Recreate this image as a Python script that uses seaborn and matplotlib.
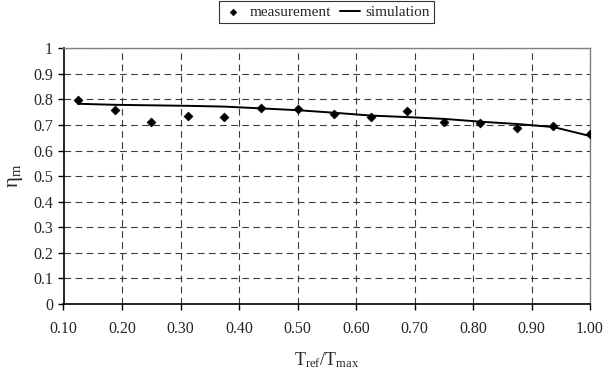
import numpy as np
import pandas as pd
import matplotlib
matplotlib.use("Agg")
import matplotlib.pyplot as plt
import seaborn as sns

# T_ref / T_max
t_ratio = [0.125, 0.1875, 0.25, 0.3125, 0.375, 0.4375, 0.5, 0.5625,
           0.625, 0.6875, 0.75, 0.8125, 0.875, 0.9375, 1.0]
eta_measured = [0.797, 0.757, 0.713, 0.735, 0.733, 0.765, 0.762, 0.743,
                0.733, 0.753, 0.712, 0.709, 0.688, 0.696, 0.663]
eta_simulated = [0.783, 0.779, 0.777, 0.775, 0.772, 0.765, 0.758, 0.748,
                 0.737, 0.731, 0.724, 0.713, 0.704, 0.692, 0.657]

x_ticks = [0.10, 0.20, 0.30, 0.40, 0.50, 0.60, 0.70, 0.80, 0.90, 1.00]
y_ticks = [0, 0.1, 0.2, 0.3, 0.4, 0.5, 0.6, 0.7, 0.8, 0.9, 1]

df = pd.DataFrame({"t": t_ratio, "meas": eta_measured, "sim": eta_simulated})

sns.set_style("white")
plt.rcParams['font.family'] = ['Liberation Serif', 'DejaVu Serif']
plt.rcParams['mathtext.fontset'] = 'custom'
plt.rcParams['mathtext.rm'] = 'Liberation Serif'
plt.rcParams['mathtext.it'] = 'Liberation Serif:italic'

fig = plt.figure(figsize=(6.05, 3.72), dpi=100)
ax = fig.add_axes([63.5 / 605, (372 - 304) / 372, 526.5 / 605, 255.7 / 372])

sns.lineplot(data=df, x="t", y="sim", ax=ax, color="black", linewidth=1.4,
             label="simulation", zorder=3)
sns.scatterplot(data=df, x="t", y="meas", ax=ax, color="black", marker="D",
                s=22, edgecolor="black", linewidth=0.3, label="measurement", zorder=4)

ax.set_xlim(0.10, 1.00)
ax.set_ylim(0, 1)
ax.set_xticks(x_ticks)
ax.set_xticklabels([f"{v:.2f}" for v in x_ticks])
ax.set_yticks(y_ticks)
ax.set_yticklabels([f"{v:g}" for v in y_ticks])

# dashed grid like the spreadsheet original
ax.grid(True, color="#3a3a3a", linestyle=(0, (6, 4)), linewidth=0.8)
ax.set_axisbelow(True)

for side in ["top", "right"]:
    ax.spines[side].set_color("#808080")
    ax.spines[side].set_linewidth(1.0)
for side in ["left", "bottom"]:
    ax.spines[side].set_color("black")
    ax.spines[side].set_linewidth(1.2)

ax.tick_params(axis="both", direction="out", length=4, width=1, color="black",
               labelsize=11.5, bottom=True, left=True)
ax.tick_params(axis="x", pad=8)

ax.set_xlabel(r"$\mathrm{T_{ref}/T_{max}}$", fontsize=13, labelpad=10)
ax.set_ylabel(r"$\mathrm{\eta_m}$", fontsize=15, labelpad=6)

handles, labels = ax.get_legend_handles_labels()
order = [labels.index("measurement"), labels.index("simulation")]
leg = ax.legend([handles[i] for i in order], [labels[i] for i in order],
                loc="lower center", bbox_to_anchor=(0.5, 1.07), ncol=2,
                frameon=True, fancybox=False, edgecolor="black", fontsize=11,
                handlelength=1.3, handletextpad=0.4, columnspacing=0.6,
                borderpad=0.25, markerscale=0.75)
leg.get_frame().set_linewidth(0.8)

fig.savefig("out.png", dpi=100)
